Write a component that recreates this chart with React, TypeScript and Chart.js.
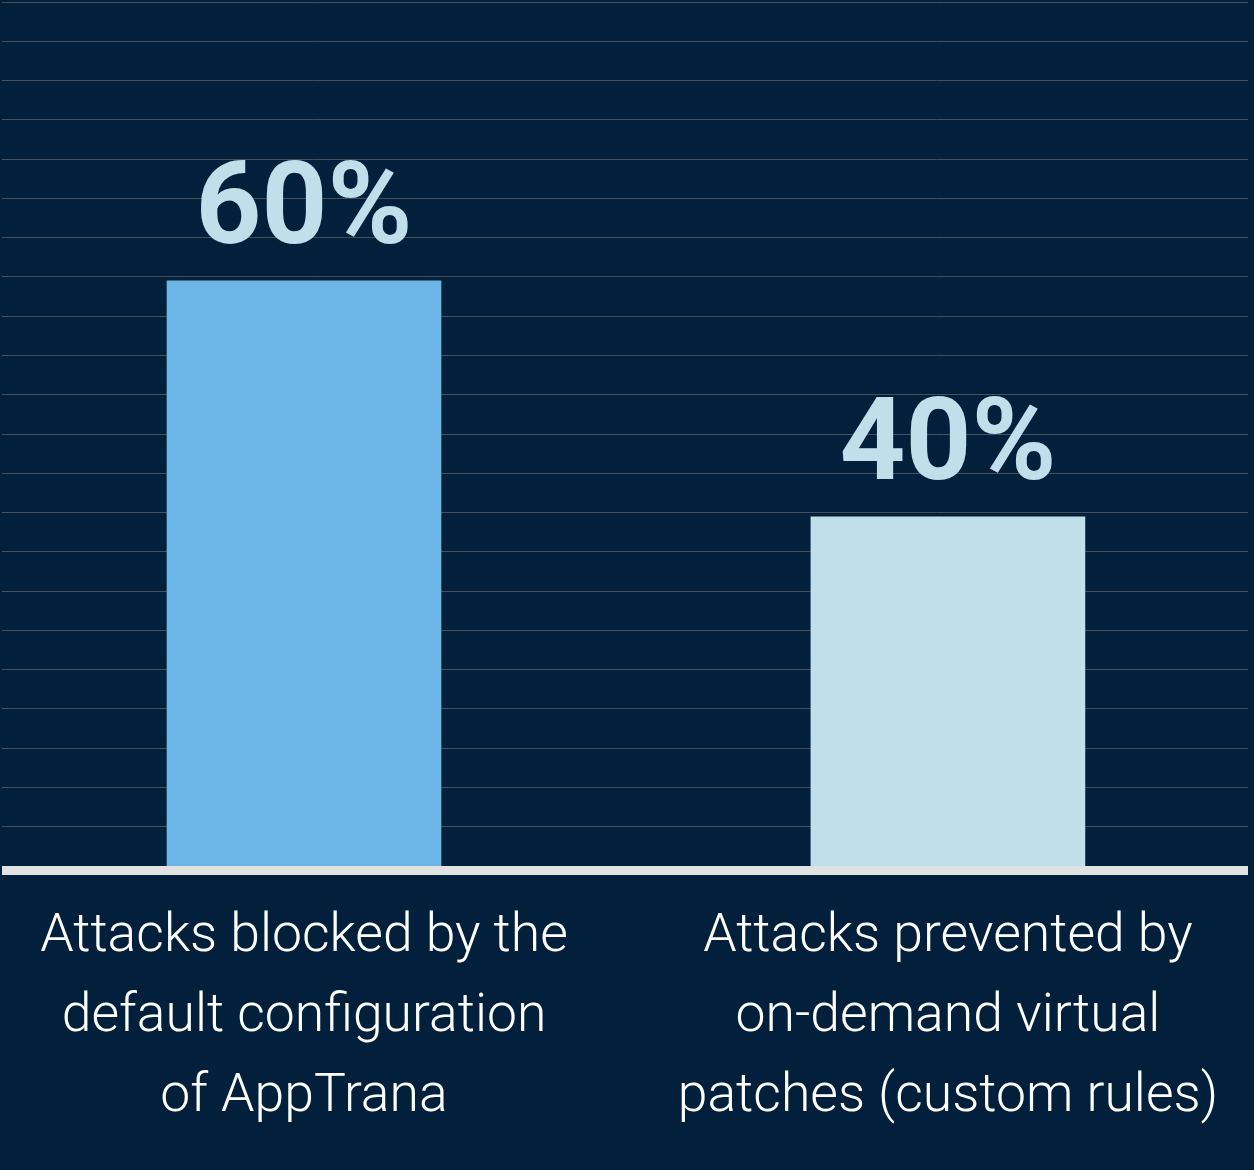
import React, { useEffect, useRef } from "react";
import { Chart, registerables } from "chart.js";

Chart.register(...registerables);

const CATEGORY_LABELS: string[][] = [
  ["Attacks blocked by the", "default configuration", "of AppTrana"],
  ["Attacks prevented by", "on-demand virtual", "patches (custom rules)"],
];
const CATEGORY_POS = [0, 1];
const VALUES = [60, 40];
const VALUE_LABELS = ["60%", "40%"];
const BAR_COLORS = ["#6bb6e6", "#bfe0ea"];

const Y_MIN = 10.42;
const Y_MAX = 83.64;
const GRID_COUNT = 22;
const X_MIN = -0.469;
const X_MAX = 1.466;

const BG = "#02203c";

export default function App() {
  const ref = useRef<HTMLCanvasElement | null>(null);

  useEffect(() => {
    document.body.style.margin = "0";
    const canvas = ref.current!;
    const bgPlugin = {
      id: "bg",
      beforeDraw(chart: any) {
        const ctx = chart.ctx;
        ctx.save();
        ctx.fillStyle = BG;
        ctx.fillRect(0, 0, chart.width, chart.height);
        ctx.restore();
      },
    };
    const overlay = {
      id: "overlay",
      afterDatasetsDraw(chart: any) {
        const ctx = chart.ctx;
        const a = chart.chartArea;
        ctx.save();
        ctx.fillStyle = "#e2e2e2";
        ctx.fillRect(a.left, a.bottom, a.right - a.left, 9);
        const meta = chart.getDatasetMeta(0);
        ctx.fillStyle = "#bfe0ea";
        ctx.font = "bold 115px Roboto";
        ctx.textAlign = "center";
        ctx.textBaseline = "alphabetic";
        meta.data.forEach((el: any, i: number) => {
          ctx.fillText(VALUE_LABELS[i], el.x, el.y - 38);
        });
        ctx.restore();
      },
    };
    const chart = new Chart(canvas, {
      type: "bar",
      data: {
        datasets: [
          {
            data: CATEGORY_POS.map((x, i) => ({ x, y: VALUES[i] })),
            backgroundColor: BAR_COLORS,
            barThickness: 274,
            borderWidth: 0,
          },
        ],
      },
      options: {
        animation: false,
        responsive: false,
        devicePixelRatio: 1,
        layout: { padding: { left: 2, right: 6, top: 2, bottom: 0 } },
        plugins: {
          legend: { display: false },
          tooltip: { enabled: false },
        },
        scales: {
          x: {
            type: "linear",
            offset: false,
            min: X_MIN,
            max: X_MAX,
            grid: { display: false, drawTicks: false, offset: false },
            border: { display: false },
            afterBuildTicks: (scale: any) => {
              scale.ticks = CATEGORY_POS.map((v) => ({ value: v }));
            },
            ticks: {
              autoSkip: false,
              maxRotation: 0,
              minRotation: 0,
              padding: 32,
              color: "#ffffff",
              font: { family: "Roboto", weight: 300 as any, size: 53.5, lineHeight: 80 / 53.5 },
              callback: (v: any) => CATEGORY_LABELS[CATEGORY_POS.indexOf(Number(v))] ?? "",
            },
          },
          y: {
            type: "linear",
            min: Y_MIN,
            max: Y_MAX,
            afterBuildTicks: (scale: any) => {
              const step = (Y_MAX - Y_MIN) / GRID_COUNT;
              const t = [];
              for (let i = 0; i <= GRID_COUNT; i++) t.push({ value: Y_MIN + i * step });
              scale.ticks = t;
            },
            grid: { color: "#4a4f55", lineWidth: 1, drawTicks: false },
            border: { display: false },
            ticks: { display: false },
          },
        },
      },
      plugins: [bgPlugin, overlay],
    });
    return () => chart.destroy();
  }, []);

  return (
    <div style={{ width: 1254, height: 1170 }}>
      <canvas ref={ref} width={1254} height={1170} style={{ display: "block" }} />
    </div>
  );
}
